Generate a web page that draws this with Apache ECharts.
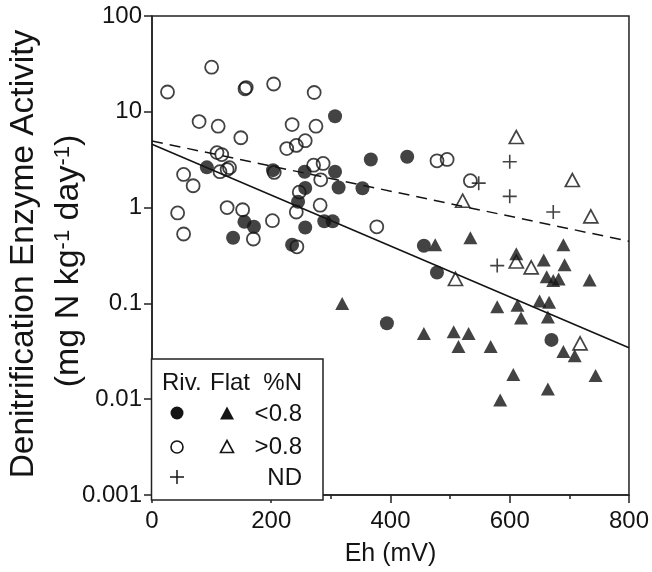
<!DOCTYPE html>
<html>
<head>
<meta charset="utf-8">
<script src="https://cdn.jsdelivr.net/npm/echarts@6/dist/echarts.min.js"></script>
<style>
html,body{margin:0;padding:0;background:#fff;}
#chart{width:652px;height:572px;}
</style>
</head>
<body>
<div id="chart"></div>
<script>
// ---- Data ----
// River, %N < 0.8 (filled circles)
const rivLowEh  = [92, 203, 256, 257, 307, 367, 428, 307, 313, 353, 155, 171, 136, 245, 257, 235, 289, 303, 456, 478, 394, 670];
const rivLowVal = [2.63, 2.46, 2.37, 1.6, 8.98, 3.18, 3.39, 2.37, 1.62, 1.59, 0.71, 0.63, 0.485, 1.15, 0.62, 0.41, 0.72, 0.72, 0.40, 0.21, 0.062, 0.0416];
// River, %N > 0.8 (open circles)
const rivHighEh  = [26, 100, 156, 158, 204, 272, 79, 111, 149, 235, 275, 226, 242, 257, 109, 117, 53, 69, 114, 126, 130, 271, 205, 287, 283, 478, 495, 534, 43, 53, 126, 152, 170, 202, 247, 242, 243, 282, 377];
const rivHighVal = [16.1, 29.2, 17.4, 17.9, 19.5, 15.9, 7.9, 7.08, 5.36, 7.36, 7.08, 4.13, 4.46, 4.99, 3.75, 3.58, 2.22, 1.69, 2.37, 2.50, 2.61, 2.77, 2.33, 2.89, 1.95, 3.08, 3.18, 1.91, 0.88, 0.53, 1.0, 0.95, 0.47, 0.73, 1.45, 0.90, 0.39, 1.06, 0.63];
// Flat, %N < 0.8 (filled triangles)
const flatLowEh  = [475, 534, 319, 456, 506, 514, 531, 611, 657, 690, 692, 662, 673, 682, 734, 579, 613, 619, 650, 666, 664, 568, 690, 709, 606, 744, 664, 584];
const flatLowVal = [0.41, 0.485, 0.10, 0.0486, 0.0507, 0.0355, 0.0486, 0.33, 0.284, 0.41, 0.253, 0.19, 0.173, 0.18, 0.176, 0.092, 0.0955, 0.0706, 0.106, 0.103, 0.072, 0.0355, 0.0315, 0.0284, 0.0181, 0.0177, 0.0128, 0.0098];
// Flat, %N > 0.8 (open triangles)
const flatHighEh  = [611, 705, 736, 521, 509, 611, 636, 718];
const flatHighVal = [5.45, 1.94, 0.81, 1.18, 0.18, 0.274, 0.238, 0.0383];
// %N not determined (+)
const ndEh  = [548, 600, 600, 673, 579];
const ndVal = [1.80, 3.01, 1.31, 0.90, 0.248];
// Regression lines (end points)
const solidEh = [0, 800];
const solidVal = [4.58, 0.0344];
const dashEh = [0, 800];
const dashVal = [4.96, 0.445];
// Axis tick labels
const yTickLabels = ['0.001', '0.01', '0.1', '1', '10', '100'];
const xTickLabels = ['0', '200', '400', '600', '800'];

const zip = (a, b) => a.map((v, i) => [v, b[i]]);
const FONT = '"Liberation Sans", Arial, Helvetica, sans-serif';
const INK = '#141414';

const chart = echarts.init(document.getElementById('chart'), null, {renderer: 'canvas'});

const plusPath = 'path://M5,0 L5,10 M0,5 L10,5';

const option = {
  backgroundColor: '#fff',
  animation: false,
  grid: {left: 152, right: 22, top: 16, bottom: 72, show: true, borderColor: '#222', borderWidth: 1.5, backgroundColor: 'transparent'},
  xAxis: {
    type: 'value', min: 0, max: 800, interval: 200,
    axisLine: {show: true, onZero: false, lineStyle: {color: '#222', width: 1.5}},
    axisTick: {show: true, length: 8, lineStyle: {color: '#222', width: 1.5}},
    minorTick: {show: true, splitNumber: 2, length: 4, lineStyle: {color: '#222', width: 1.5}},
    splitLine: {show: false}, minorSplitLine: {show: false},
    axisLabel: {fontSize: 24, color: INK, fontFamily: FONT, margin: 14,
      formatter: v => xTickLabels[Math.round(v / 200)] ?? ''},
    name: 'Eh (mV)', nameLocation: 'middle', nameGap: 47,
    nameTextStyle: {fontSize: 25, color: INK, fontFamily: FONT}
  },
  yAxis: {
    type: 'log', logBase: 10, min: 0.001, max: 100,
    axisLine: {show: true, onZero: false, lineStyle: {color: '#222', width: 1.5}},
    axisTick: {show: true, length: 8, lineStyle: {color: '#222', width: 1.5}},
    minorTick: {show: false},
    splitLine: {show: false},
    axisLabel: {fontSize: 24, color: INK, fontFamily: FONT, margin: 10,
      formatter: v => yTickLabels[Math.round(Math.log10(v)) + 3] ?? ''}
  },
  series: [
    {type: 'line', data: zip(solidEh, solidVal), symbol: 'none', lineStyle: {color: INK, width: 1.5}, z: 1},
    {type: 'line', data: zip(dashEh, dashVal), symbol: 'none', lineStyle: {color: INK, width: 1.5, type: [11, 7]}, z: 1},
    {type: 'scatter', data: zip(rivHighEh, rivHighVal), symbol: 'circle', symbolSize: 13,
      itemStyle: {color: 'rgba(255,255,255,0)', borderColor: INK, borderWidth: 1.8}, z: 3},
    {type: 'scatter', data: zip(flatHighEh, flatHighVal), symbol: 'triangle', symbolSize: [14, 13],
      itemStyle: {color: 'rgba(255,255,255,0)', borderColor: INK, borderWidth: 1.7}, z: 3},
    {type: 'scatter', data: zip(ndEh, ndVal), symbol: plusPath, symbolSize: 14,
      itemStyle: {color: 'none', borderColor: INK, borderWidth: 1.6}, z: 3},
    {type: 'scatter', data: zip(rivLowEh, rivLowVal), symbol: 'circle', symbolSize: 14,
      itemStyle: {color: INK}, z: 4},
    {type: 'scatter', data: zip(flatLowEh, flatLowVal), symbol: 'triangle', symbolSize: [14, 13],
      itemStyle: {color: INK}, z: 4}
  ],
  graphic: [
    // y axis title
    {type: 'text', x: 24, y: 254, rotation: Math.PI / 2, z: 10,
      style: {text: 'Denitrification Enzyme Activity', fill: INK, font: '33.5px ' + FONT, textAlign: 'center', textVerticalAlign: 'middle'}},
    {type: 'text', x: 69, y: 261, rotation: Math.PI / 2, z: 10,
      style: {text: '{b|(mg N kg}{s|-1}{b| day}{s|-1}{b|)}', fill: INK, textAlign: 'center', textVerticalAlign: 'middle',
        rich: {b: {fontSize: 34, fontFamily: FONT, fill: INK}, s: {fontSize: 22, fontFamily: FONT, fill: INK, verticalAlign: 'top'}}}},
    // legend box
    {type: 'rect', z: 20, shape: {x: 151.5, y: 359, width: 171.5, height: 141},
      style: {fill: '#fff', stroke: '#222', lineWidth: 1.5}},
    {type: 'text', z: 21, x: 162, y: 383, style: {text: 'Riv.', fill: INK, font: '24px ' + FONT, textVerticalAlign: 'middle'}},
    {type: 'text', z: 21, x: 210, y: 383, style: {text: 'Flat', fill: INK, font: '24px ' + FONT, textVerticalAlign: 'middle'}},
    {type: 'text', z: 21, x: 302, y: 383, style: {text: '%N', fill: INK, font: '24px ' + FONT, textAlign: 'right', textVerticalAlign: 'middle'}},
    {type: 'circle', z: 21, shape: {cx: 177, cy: 413, r: 6.5}, style: {fill: INK}},
    {type: 'polygon', z: 21, shape: {points: [[227, 406.5], [234, 419.5], [220, 419.5]]}, style: {fill: INK}},
    {type: 'text', z: 21, x: 302, y: 414, style: {text: '<0.8', fill: INK, font: '24px ' + FONT, textAlign: 'right', textVerticalAlign: 'middle'}},
    {type: 'circle', z: 21, shape: {cx: 177, cy: 447, r: 6}, style: {fill: 'none', stroke: INK, lineWidth: 1.6}},
    {type: 'polygon', z: 21, shape: {points: [[227, 440.5], [233.5, 452.5], [220.5, 452.5]]}, style: {fill: 'none', stroke: INK, lineWidth: 1.6}},
    {type: 'text', z: 21, x: 302, y: 447, style: {text: '>0.8', fill: INK, font: '24px ' + FONT, textAlign: 'right', textVerticalAlign: 'middle'}},
    {type: 'line', z: 21, shape: {x1: 170, y1: 477, x2: 184, y2: 477}, style: {stroke: INK, lineWidth: 1.5}},
    {type: 'line', z: 21, shape: {x1: 177, y1: 470, x2: 177, y2: 484}, style: {stroke: INK, lineWidth: 1.5}},
    {type: 'text', z: 21, x: 302, y: 478, style: {text: 'ND', fill: INK, font: '24px ' + FONT, textAlign: 'right', textVerticalAlign: 'middle'}}
  ]
};
chart.setOption(option);
</script>
</body>
</html>
